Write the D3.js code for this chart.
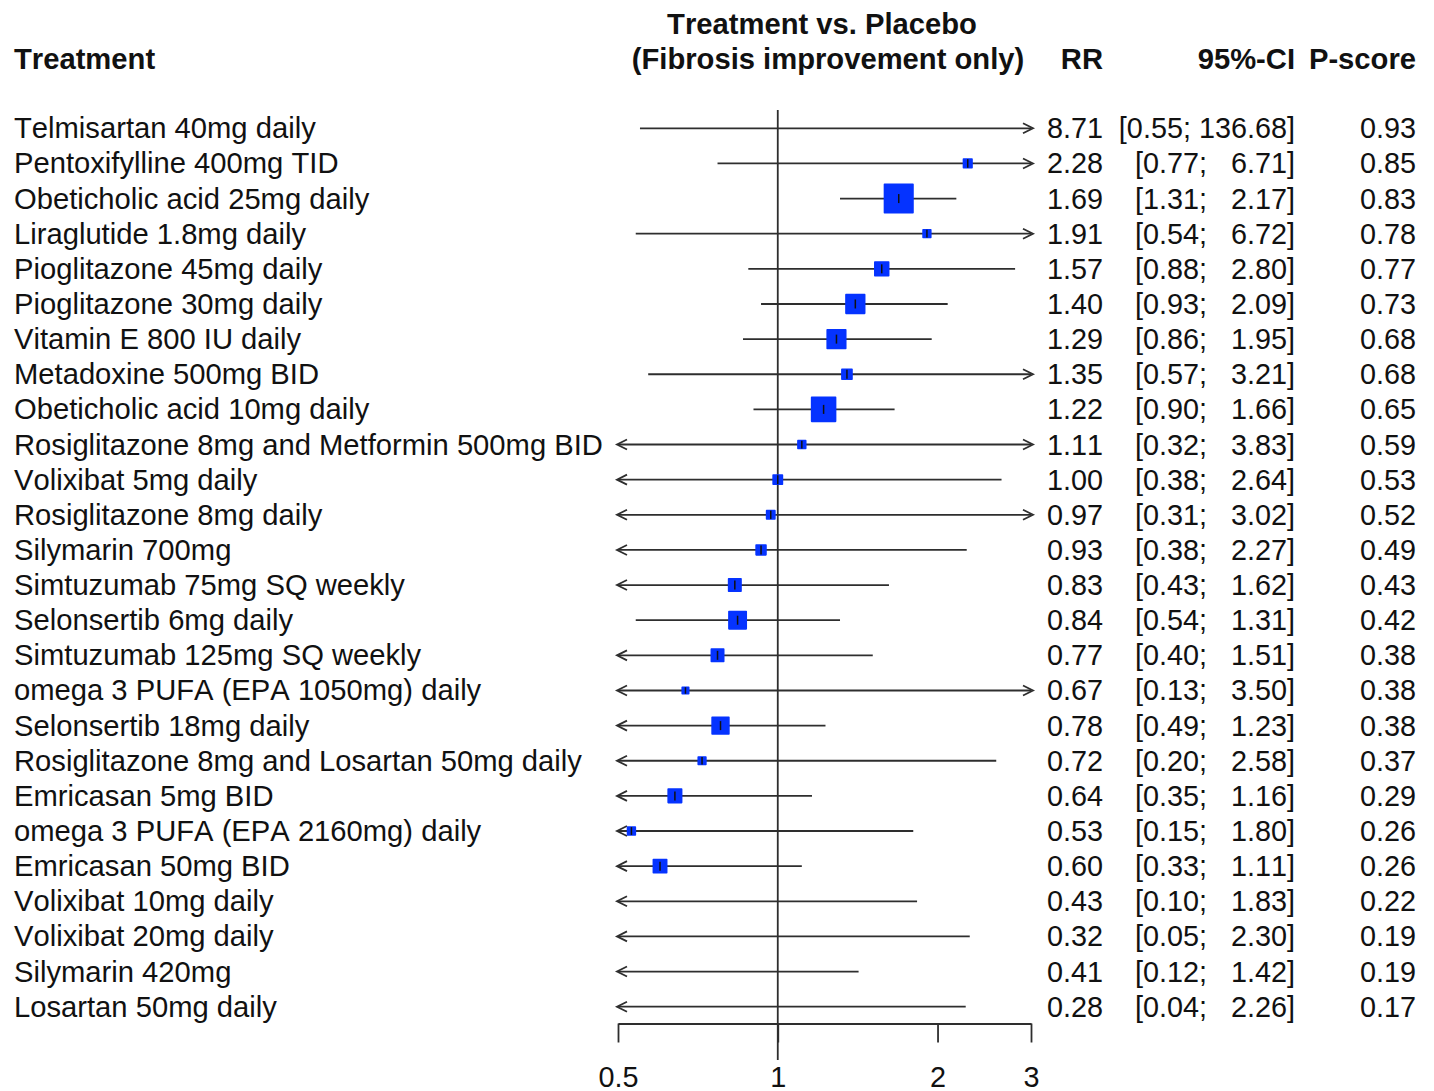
<!DOCTYPE html>
<html>
<head>
<meta charset="utf-8">
<script src="https://cdn.jsdelivr.net/npm/d3@7"></script>
<style>
  html, body { margin: 0; padding: 0; background: #fff; }
  svg text { font-family: "Liberation Sans", Arial, sans-serif; fill: #111; font-kerning: none; }
</style>
</head>
<body>
<svg id="chart" width="1434" height="1091"></svg>
<script>
const treatments = [
  "Telmisartan 40mg daily",
  "Pentoxifylline 400mg TID",
  "Obeticholic acid 25mg daily",
  "Liraglutide 1.8mg daily",
  "Pioglitazone 45mg daily",
  "Pioglitazone 30mg daily",
  "Vitamin E 800 IU daily",
  "Metadoxine 500mg BID",
  "Obeticholic acid 10mg daily",
  "Rosiglitazone 8mg and Metformin 500mg BID",
  "Volixibat 5mg daily",
  "Rosiglitazone 8mg daily",
  "Silymarin 700mg",
  "Simtuzumab 75mg SQ weekly",
  "Selonsertib 6mg daily",
  "Simtuzumab 125mg SQ weekly",
  "omega 3 PUFA (EPA 1050mg) daily",
  "Selonsertib 18mg daily",
  "Rosiglitazone 8mg and Losartan 50mg daily",
  "Emricasan 5mg BID",
  "omega 3 PUFA (EPA 2160mg) daily",
  "Emricasan 50mg BID",
  "Volixibat 10mg daily",
  "Volixibat 20mg daily",
  "Silymarin 420mg",
  "Losartan 50mg daily"
];
const rr    = [8.71, 2.28, 1.69, 1.91, 1.57, 1.40, 1.29, 1.35, 1.22, 1.11, 1.00, 0.97, 0.93, 0.83, 0.84, 0.77, 0.67, 0.78, 0.72, 0.64, 0.53, 0.60, 0.43, 0.32, 0.41, 0.28];
const lower = [0.55, 0.77, 1.31, 0.54, 0.88, 0.93, 0.86, 0.57, 0.90, 0.32, 0.38, 0.31, 0.38, 0.43, 0.54, 0.40, 0.13, 0.49, 0.20, 0.35, 0.15, 0.33, 0.10, 0.05, 0.12, 0.04];
const upper = [136.68, 6.71, 2.17, 6.72, 2.80, 2.09, 1.95, 3.21, 1.66, 3.83, 2.64, 3.02, 2.27, 1.62, 1.31, 1.51, 3.50, 1.23, 2.58, 1.16, 1.80, 1.11, 1.83, 2.30, 1.42, 2.26];
const pscore = [0.93, 0.85, 0.83, 0.78, 0.77, 0.73, 0.68, 0.68, 0.65, 0.59, 0.53, 0.52, 0.49, 0.43, 0.42, 0.38, 0.38, 0.38, 0.37, 0.29, 0.26, 0.26, 0.22, 0.19, 0.19, 0.17];
const xTicks = [0.5, 1, 2, 3];
const xDomain = [0.5, 3];

const svg = d3.select("#chart");
const FS = 29.2;     // labels & headers
const FN = 28.8;     // numeric columns
const lineCol = "#2e2e2e";
const lw = 1.8;
const squareCol = "#0533ff";

const x = d3.scaleLog().domain(xDomain).range([618, 1031]);
const y = d3.scaleLinear().domain([0, treatments.length - 1]).range([128.3, 1006.7]);

// precision (inverse SE) drives square size
const precision = lower.map((l, i) => 3.92 / Math.log(upper[i] / l));
const size = d3.scaleLinear().domain([0, d3.max(precision)]).range([2.5, 28.5]);

// Headers
const hdr = (tx, xx, yy, anchor) => svg.append("text").attr("x", xx).attr("y", yy)
  .attr("font-size", FS).attr("font-weight", "bold").attr("text-anchor", anchor).text(tx);
hdr("Treatment", 14, 69, "start");
hdr("Treatment vs. Placebo", 822, 34, "middle");
hdr("(Fibrosis improvement only)", 828, 69, "middle");
hdr("RR", 1103, 69, "end");
hdr("95%-CI", 1295, 69, "end");
hdr("P-score", 1416, 69, "end");

// Reference line at 1
svg.append("line")
  .attr("x1", x(1)).attr("x2", x(1))
  .attr("y1", 110).attr("y2", 1060)
  .attr("stroke", lineCol).attr("stroke-width", lw);

// Axis
const axis = d3.axisBottom(x).tickValues(xTicks).tickFormat(d3.format("")).tickSize(19).tickSizeOuter(0);
const gAxis = svg.append("g").attr("transform", "translate(0,1023.5)").call(axis);
gAxis.select(".domain").attr("stroke", lineCol).attr("stroke-width", lw);
gAxis.selectAll(".tick line").attr("stroke", lineCol).attr("stroke-width", lw);
gAxis.selectAll(".tick text")
  .attr("font-size", FN)
  .attr("font-family", "Liberation Sans, Arial, sans-serif")
  .attr("fill", "#111")
  .attr("dy", 0).attr("y", 63);

const [xmin, xmax] = xDomain;
const rows = svg.append("g");

treatments.forEach((t, i) => {
  const cy = y(i);
  const g = rows.append("g");
  // label
  g.append("text").attr("x", 14).attr("y", cy + 10).attr("font-size", FS).text(t);

  // CI line
  const lo = Math.max(lower[i], xmin), hi = Math.min(upper[i], xmax);
  const x1 = x(lo), x2 = x(hi);
  g.append("line").attr("x1", x1).attr("x2", x2).attr("y1", cy).attr("y2", cy)
    .attr("stroke", lineCol).attr("stroke-width", lw);
  if (lower[i] < xmin) {
    g.append("path").attr("d", `M${x1 + 9},${cy - 5}L${x1 - 1},${cy}L${x1 + 9},${cy + 5}`)
      .attr("fill", "none").attr("stroke", lineCol).attr("stroke-width", lw);
  }
  if (upper[i] > xmax) {
    g.append("path").attr("d", `M${x2 - 8},${cy - 5}L${x2 + 2},${cy}L${x2 - 8},${cy + 5}`)
      .attr("fill", "none").attr("stroke", lineCol).attr("stroke-width", lw);
  }

  // square
  if (rr[i] >= xmin && rr[i] <= xmax) {
    const s = size(precision[i]);
    const cx = x(rr[i]);
    g.append("rect").attr("x", cx - s / 2).attr("y", cy - s / 2).attr("width", s).attr("height", s)
      .attr("fill", squareCol).attr("stroke", squareCol).attr("stroke-width", 1.6)
      .attr("stroke-linejoin", "round");
    const th = Math.min(s, 9);
    g.append("line").attr("x1", cx).attr("x2", cx).attr("y1", cy - th / 2).attr("y2", cy + th / 2)
      .attr("stroke", "#111").attr("stroke-width", 1.5);
  }

  // RR
  g.append("text").attr("x", 1103).attr("y", cy + 10).attr("font-size", FN).attr("text-anchor", "end")
    .text(rr[i].toFixed(2));
  // CI
  const ciStr = "[" + lower[i].toFixed(2) + "; " + upper[i].toFixed(2).padStart(6, " ") + "]";
  g.append("text").attr("x", 1295).attr("y", cy + 10).attr("font-size", FN).attr("text-anchor", "end")
    .style("white-space", "pre").text(ciStr);
  // P-score
  g.append("text").attr("x", 1416).attr("y", cy + 10).attr("font-size", FN).attr("text-anchor", "end")
    .text(pscore[i].toFixed(2));
});
</script>
</body>
</html>
